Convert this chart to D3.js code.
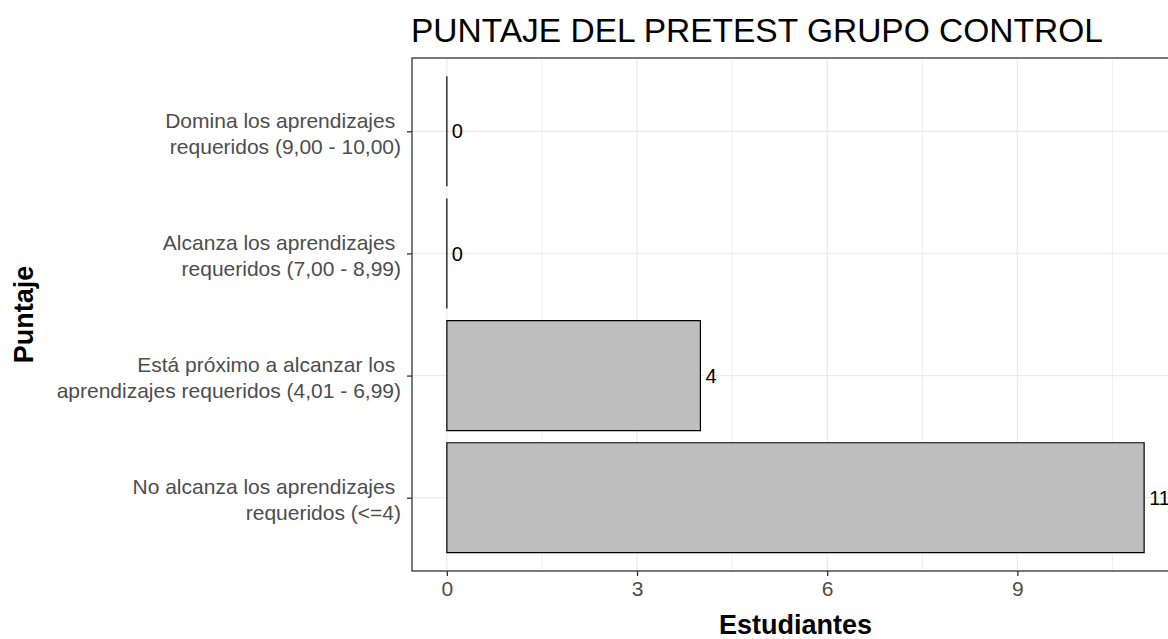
<!DOCTYPE html>
<html>
<head>
<meta charset="utf-8">
<script src="https://d3js.org/d3.v7.min.js"></script>
<style>
  body { margin: 0; background: #fff; }
  svg { display: block; font-family: "Liberation Sans", Arial, sans-serif; }
</style>
</head>
<body>
<div id="chart"></div>
<script>
// categories, top to bottom
var categorias = [
  ["Domina los aprendizajes ", "requeridos (9,00 - 10,00)"],
  ["Alcanza los aprendizajes ", "requeridos (7,00 - 8,99)"],
  ["Está próximo a alcanzar los ", "aprendizajes requeridos (4,01 - 6,99)"],
  ["No alcanza los aprendizajes ", "requeridos (<=4)"]
];
var estudiantes = [0, 0, 4, 11];
var xTicks = [0, 3, 6, 9];
var xMinor = [1.5, 4.5, 7.5, 10.5];

var width = 1168, height = 639;
var margin = {top: 58, left: 412, bottom: 68, right: -11}; // panel is wider than the page, like the original crop

var svg = d3.select("#chart").append("svg")
  .attr("width", width).attr("height", height);

var x0 = margin.left, x1 = width - margin.right;
var y0 = margin.top, y1 = height - margin.bottom;

var xmax = d3.max(estudiantes);
var x = d3.scaleLinear().domain([-0.05 * xmax, xmax * 1.05]).range([x0, x1]);
var keys = categorias.map(function(d, i) { return i; });
var y = d3.scalePoint().domain(keys).range([y0, y1]).padding(0.6);
var barH = y.step() * 0.9;

// grid
var grid = svg.append("g");
grid.selectAll(".minor").data(xMinor).enter().append("line")
  .attr("x1", x).attr("x2", x).attr("y1", y0).attr("y2", y1)
  .attr("stroke", "#ebebeb").attr("stroke-width", 0.8);
grid.selectAll(".major").data(xTicks).enter().append("line")
  .attr("x1", x).attr("x2", x).attr("y1", y0).attr("y2", y1)
  .attr("stroke", "#ebebeb").attr("stroke-width", 1.3);
grid.selectAll(".hmajor").data(keys).enter().append("line")
  .attr("x1", x0).attr("x2", x1).attr("y1", y).attr("y2", y)
  .attr("stroke", "#ebebeb").attr("stroke-width", 1.3);

// bars (paths so that zero-width bars still show their outline)
svg.selectAll(".bar").data(estudiantes).enter().append("path")
  .attr("d", function(d, i) {
    var top = y(i) - barH / 2, w = x(d) - x(0);
    return "M" + x(0) + "," + top + "h" + w + "v" + barH + "h" + (-w) + "Z";
  })
  .attr("fill", "#bebebe")
  .attr("stroke", "#000")
  .attr("stroke-width", 1.2);

// value labels
svg.selectAll(".lab").data(estudiantes).enter().append("text")
  .attr("x", function(d) { return x(d) + 5; })
  .attr("y", function(d, i) { return y(i); })
  .attr("dy", "0.36em")
  .attr("font-size", 20)
  .attr("fill", "#000")
  .text(function(d) { return d; });

// panel border
svg.append("rect")
  .attr("x", x0).attr("y", y0).attr("width", x1 - x0).attr("height", y1 - y0)
  .attr("fill", "none").attr("stroke", "#333").attr("stroke-width", 1.3);

// x axis
var xa = svg.append("g").attr("transform", "translate(0," + y1 + ")")
  .call(d3.axisBottom(x).tickValues(xTicks).tickSize(5).tickPadding(5));
xa.select(".domain").remove();
xa.selectAll("line").attr("stroke", "#333").attr("stroke-width", 1.3);
xa.selectAll("text").attr("font-size", 21).attr("fill", "#4d4d4d")
  .attr("font-family", "Liberation Sans, Arial, sans-serif");

// y axis
var ya = svg.append("g").attr("transform", "translate(" + x0 + ",0)")
  .call(d3.axisLeft(y).tickSize(5).tickFormat(""));
ya.select(".domain").remove();
ya.selectAll("line").attr("stroke", "#333").attr("stroke-width", 1.3);

var lineH = 26;
svg.selectAll(".ylab").data(categorias).enter().append("text")
  .attr("text-anchor", "end")
  .attr("font-size", 21)
  .attr("fill", "#4d4d4d")
  .attr("xml:space", "preserve")
  .style("white-space", "pre")
  .attr("transform", function(d, i) { return "translate(" + (x0 - 11) + "," + (y(i) + 2) + ")"; })
  .selectAll("tspan").data(function(d) { return d; }).enter().append("tspan")
    .attr("x", 0)
    .attr("y", function(d, j, arr) { return (j - (arr.length - 1) / 2) * lineH; })
    .attr("dy", "0.36em")
    .text(function(d) { return d; });

// titles
svg.append("text")
  .attr("x", x0 - 1).attr("y", 42)
  .attr("font-size", 33.5).attr("fill", "#000")
  .text("PUNTAJE DEL PRETEST GRUPO CONTROL");

svg.append("text")
  .attr("x", (x0 + x1) / 2).attr("y", 634)
  .attr("text-anchor", "middle")
  .attr("font-size", 27).attr("font-weight", "bold").attr("fill", "#000")
  .text("Estudiantes");

svg.append("text")
  .attr("transform", "translate(33," + (y0 + y1) / 2 + ") rotate(-90)")
  .attr("text-anchor", "middle")
  .attr("font-size", 27).attr("font-weight", "bold").attr("fill", "#000")
  .text("Puntaje");
</script>
</body>
</html>
